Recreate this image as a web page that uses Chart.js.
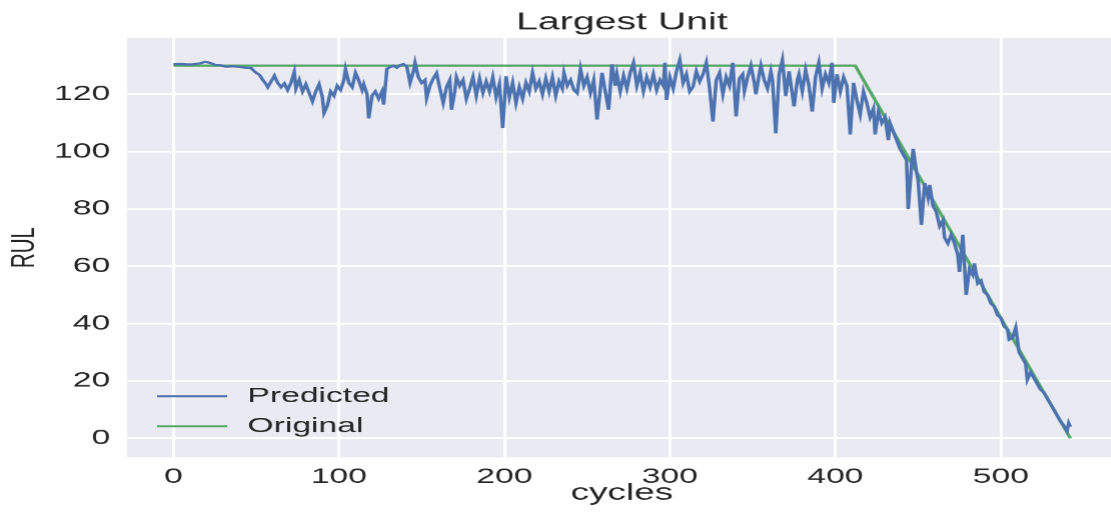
<!DOCTYPE html>
<html>
<head>
<meta charset="utf-8">
<script src="https://cdn.jsdelivr.net/npm/chart.js@4.4.1/dist/chart.umd.min.js"></script>
<style>
  html, body { margin: 0; padding: 0; background: #ffffff; overflow: hidden; width: 1111px; height: 516px; }
  #wrap { position: absolute; left: 0; top: 0; width: 698px; height: 516px; transform: scaleX(1.6); transform-origin: 0 0; }
</style>
</head>
<body>
<div id="wrap"><canvas id="rul" width="698" height="516"></canvas></div>
<script>
// ---- data -------------------------------------------------------------
const CHART_TITLE = 'Largest Unit';
const X_LABEL = 'cycles';
const Y_LABEL = 'RUL';
const X_TICKS = [0, 100, 200, 300, 400, 500];
const Y_TICKS = [0, 20, 40, 60, 80, 100, 120];
const SERIES_NAMES = ['Predicted', 'Original'];

const PRED_CYCLES = [
  0, 4, 8, 12, 16, 19, 22, 25, 28, 32, 36, 40, 44, 47, 48, 50, 52, 54, 56, 57,
  59, 61, 63, 65, 67, 69, 71, 73, 74, 76, 78, 80, 82, 84, 86, 88, 90, 91, 93, 95,
  97, 99, 101, 103, 104, 106, 108, 110, 112, 114, 115, 117, 118, 120, 122, 124, 126, 127, 129, 131,
  133, 135, 137, 139, 141, 143, 145, 146, 148, 150, 152, 153, 155, 157, 159, 161, 163, 165, 167, 168,
  170, 171, 173, 175, 177, 179, 181, 183, 185, 187, 189, 191, 193, 195, 197, 199, 201, 203, 205, 207,
  209, 211, 213, 215, 217, 219, 221, 223, 225, 227, 229, 231, 233, 235, 236, 238, 240, 242, 244, 246,
  248, 250, 252, 254, 256, 258, 259, 261, 263, 265, 267, 268, 270, 272, 274, 276, 278, 280, 282, 284,
  286, 288, 290, 292, 294, 296, 297, 298, 300, 302, 304, 306, 308, 310, 312, 314, 316, 318, 320, 322,
  324, 326, 328, 330, 332, 334, 336, 338, 340, 342, 344, 345, 347, 349, 351, 352, 354, 355, 357, 359,
  361, 362, 364, 366, 368, 370, 372, 373, 375, 377, 378, 380, 382, 384, 386, 388, 390, 392, 394, 396,
  398, 399, 401, 403, 405, 407, 409, 411, 413, 415, 417, 419, 421, 423, 424, 426, 428, 430, 432, 433,
  435, 437, 439, 441, 443, 444, 446, 447, 449, 450, 452, 454, 456, 457, 459, 461, 463, 465, 466, 468,
  470, 472, 474, 475, 477, 479, 481, 483, 484, 486, 488, 490, 492, 494, 496, 498, 500, 502, 504, 505,
  507, 509, 511, 513, 515, 516, 518, 520, 522, 524, 526, 528, 530, 532, 534, 536, 538, 540, 541, 542
];
const PRED_RUL = [
  130.5, 130.6, 130.4, 130.5, 130.8, 131.3, 131.0, 130.3, 130.2, 129.6, 129.8, 129.5, 129.3, 129.2, 128.5, 127.5, 126.8, 125.0, 123.5, 122.5,
  124.5, 126.5, 124.0, 122.5, 123.8, 121.5, 124.0, 127.8, 122.0, 125.0, 121.0, 123.5, 120.5, 117.5, 121.0, 123.5, 119.0, 113.5, 116.0, 121.0,
  119.5, 123.0, 121.5, 125.0, 128.8, 124.0, 122.5, 127.5, 124.8, 121.5, 123.5, 120.0, 111.6, 119.5, 121.0, 118.5, 121.0, 116.4, 128.9, 129.5,
  130.0, 129.3, 130.2, 130.5, 129.8, 124.0, 128.0, 131.0, 126.0, 124.0, 125.0, 118.7, 123.0, 125.5, 127.4, 122.0, 117.0, 122.5, 125.0, 114.6,
  121.0, 126.0, 123.0, 125.0, 118.4, 122.0, 126.0, 119.5, 125.5, 120.5, 124.5, 121.0, 126.0, 119.0, 123.5, 108.2, 126.3, 119.0, 124.0, 117.0,
  122.5, 118.5, 124.0, 121.0, 127.5, 122.0, 124.5, 120.0, 125.5, 121.0, 126.0, 119.5, 124.5, 122.0, 127.5, 123.0, 125.0, 121.5, 120.4, 128.8,
  123.0, 126.0, 120.5, 125.0, 111.2, 122.0, 127.5, 121.0, 114.6, 130.5, 123.0, 127.0, 121.0, 126.5, 122.0, 127.5, 131.0, 123.0, 127.5, 121.0,
  126.0, 122.5, 127.0, 121.5, 125.0, 123.0, 131.0, 118.0, 126.0, 122.0, 128.0, 132.0, 124.0, 127.0, 121.0, 122.6, 128.0, 124.5, 127.0, 131.0,
  122.0, 110.5, 125.0, 127.5, 120.0, 126.0, 123.0, 131.0, 112.3, 125.5, 127.0, 121.0, 126.0, 130.0, 124.0, 120.0, 127.0, 130.0, 125.0, 122.0,
  128.0, 125.0, 106.4, 127.0, 132.0, 119.4, 128.0, 124.0, 115.8, 125.0, 127.0, 121.0, 128.5, 123.0, 114.0, 126.0, 131.0, 122.0, 127.0, 124.0,
  131.0, 117.0, 127.0, 121.0, 126.0, 123.0, 106.0, 124.0, 118.0, 113.0, 121.0, 117.0, 112.0, 115.0, 106.0, 114.0, 110.0, 112.0, 104.0, 110.0,
  107.0, 104.0, 101.0, 99.0, 97.0, 80.0, 95.0, 101.0, 93.0, 90.0, 74.4, 89.0, 84.0, 88.4, 81.0, 79.0, 74.0, 76.0, 70.0, 68.0,
  71.0, 68.0, 64.0, 58.0, 71.0, 50.0, 59.0, 57.0, 61.0, 54.0, 55.0, 51.0, 50.0, 47.0, 46.0, 43.0, 42.0, 39.0, 38.0, 34.4,
  35.0, 38.6, 30.0, 28.0, 26.0, 20.4, 23.0, 21.0, 19.0, 17.0, 16.0, 14.0, 12.0, 10.0, 8.0, 6.0, 4.5, 2.5, 5.3, 4.0
];
// true RUL: capped at 130, then one cycle of life lost per cycle
const ORIG_CYCLES = [0, 412, 542];
const ORIG_RUL = [130, 130, 0];

// ---- styling ----------------------------------------------------------
const FONT = '"Liberation Sans", Arial, Helvetica, sans-serif';
const TEXT = '#262626';
const BLUE = '#4C72B0';
const GREEN = '#55A868';
const PANEL = '#EAEAF2';

const toPoints = (xs, ys) => xs.map((x, i) => ({ x, y: ys[i] }));

// axes background (seaborn "darkgrid" look)
const panelBg = {
  id: 'panelBg',
  beforeDraw(chart) {
    const { ctx, chartArea: a } = chart;
    ctx.save();
    ctx.fillStyle = '#ffffff';
    ctx.fillRect(0, 0, chart.width, chart.height);
    ctx.fillStyle = PANEL;
    ctx.fillRect(a.left, a.top, a.right - a.left, a.bottom - a.top);
    ctx.restore();
  }
};

// frameless legend in the lower-left corner of the axes
const insideLegend = {
  id: 'insideLegend',
  afterDatasetsDraw(chart) {
    const { ctx, chartArea: a } = chart;
    ctx.save();
    ctx.font = '21px ' + FONT;
    ctx.textBaseline = 'middle';
    ctx.textAlign = 'left';
    chart.data.datasets.forEach((ds, i) => {
      const y = a.bottom - 61 + i * 30;
      ctx.strokeStyle = ds.borderColor;
      ctx.lineWidth = 2;
      ctx.beginPath();
      ctx.moveTo(a.left + 18.7, y);
      ctx.lineTo(a.left + 62.5, y);
      ctx.stroke();
      ctx.fillStyle = TEXT;
      ctx.fillText(ds.label, a.left + 75.2, y);
    });
    ctx.restore();
  }
};

const gridStyle = { color: '#ffffff', lineWidth: 1.8, drawTicks: false };

new Chart(document.getElementById('rul'), {
  type: 'line',
  data: {
    datasets: [
      {
        label: SERIES_NAMES[0],
        data: toPoints(PRED_CYCLES, PRED_RUL),
        borderColor: BLUE,
        borderWidth: 2.2,
        pointRadius: 0,
        tension: 0,
        fill: false
      },
      {
        label: SERIES_NAMES[1],
        data: toPoints(ORIG_CYCLES, ORIG_RUL),
        borderColor: GREEN,
        borderWidth: 2.2,
        pointRadius: 0,
        tension: 0,
        fill: false
      }
    ]
  },
  options: {
    responsive: false,
    animation: false,
    devicePixelRatio: 1.6,
    layout: { padding: { left: 0, right: 0.6, top: 0, bottom: 0 } },
    plugins: {
      legend: { display: false },
      tooltip: { enabled: false },
      title: {
        display: true,
        text: CHART_TITLE,
        fullSize: false,
        color: TEXT,
        font: { family: FONT, size: 24.5, weight: 'normal', lineHeight: 1.1 },
        padding: { top: 9, bottom: 2 }
      }
    },
    scales: {
      x: {
        type: 'linear',
        min: -28,
        max: 570,
        afterBuildTicks(scale) { scale.ticks = X_TICKS.map(v => ({ value: v })); },
        afterFit(scale) { scale.height = 59; },
        border: { display: false },
        grid: gridStyle,
        ticks: {
          color: TEXT,
          padding: 7,
          maxRotation: 0,
          font: { family: FONT, size: 21 },
          callback: v => String(v)
        },
        title: {
          display: true,
          text: X_LABEL,
          color: TEXT,
          font: { family: FONT, size: 23 },
          padding: { top: 0, bottom: 9 }
        }
      },
      y: {
        type: 'linear',
        min: -6.65,
        max: 139.65,
        afterBuildTicks(scale) { scale.ticks = Y_TICKS.map(v => ({ value: v })); },
        afterFit(scale) { scale.width = 79.4; },
        border: { display: false },
        grid: gridStyle,
        ticks: {
          color: TEXT,
          padding: 10.6,
          font: { family: FONT, size: 21 },
          callback: v => String(v)
        },
        title: {
          display: true,
          text: Y_LABEL,
          color: TEXT,
          font: { family: FONT, size: 20.5 },
          padding: { top: 3.3, bottom: 0 }
        }
      }
    }
  },
  plugins: [panelBg, insideLegend]
});
</script>
</body>
</html>
